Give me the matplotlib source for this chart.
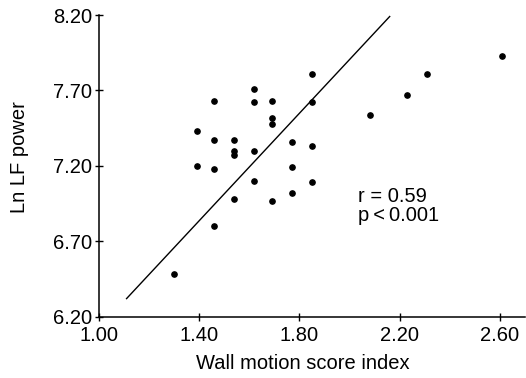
import numpy as np
import matplotlib
matplotlib.use("Agg")
import matplotlib.pyplot as plt

plt.rcParams['font.family'] = ['Liberation Sans', 'DejaVu Sans']

# wall motion score index vs ln LF power
wmsi = [1.30, 1.39, 1.39, 1.46, 1.46, 1.46, 1.46, 1.54, 1.54, 1.54,
        1.54, 1.62, 1.62, 1.62, 1.62, 1.69, 1.69, 1.69, 1.69, 1.77,
        1.77, 1.77, 1.85, 1.85, 1.85, 1.85, 2.08, 2.23, 2.31, 2.61]
ln_lf = [6.48, 7.43, 7.20, 7.63, 7.37, 7.18, 6.80, 7.37, 7.30, 7.27,
         6.98, 7.71, 7.62, 7.30, 7.10, 7.63, 7.52, 7.48, 6.97, 7.36,
         7.19, 7.02, 7.81, 7.62, 7.33, 7.09, 7.54, 7.67, 7.81, 7.93]

# regression line end points
line_x = [1.11, 2.16]
line_y = [6.32, 8.19]

xticks = [1.00, 1.40, 1.80, 2.20, 2.60]
yticks = [6.20, 6.70, 7.20, 7.70, 8.20]

fs = 14.5

fig = plt.figure(figsize=(5.26, 3.78), dpi=100)
ax = fig.add_axes([99/526, 61.3/378, 426/526, 301.7/378])

ax.plot(wmsi, ln_lf, 'o', color='black', markersize=3.8, linestyle='none')
ax.plot(line_x, line_y, color='black', linewidth=1.0)

ax.set_xlim(1.00, 2.70)
ax.set_ylim(6.20, 8.20)
ax.set_xticks(xticks)
ax.set_yticks(yticks)
ax.set_xticklabels(["%.2f" % t for t in xticks])
ax.set_yticklabels(["%.2f" % t for t in yticks])

ax.spines['top'].set_visible(False)
ax.spines['right'].set_visible(False)
ax.spines['left'].set_linewidth(1.1)
ax.spines['bottom'].set_linewidth(1.1)
ax.tick_params(axis='both', direction='inout', length=6, width=1.0,
               labelsize=fs, colors='black')
ax.tick_params(axis='y', pad=2)
ax.tick_params(axis='x', pad=4)

ax.set_xlabel("Wall motion score index", fontsize=fs)
ax.xaxis.set_label_coords(0.478, -0.125)
ax.set_ylabel("Ln LF power", fontsize=fs)
ax.yaxis.set_label_coords(-0.165, 0.53)

ax.text(0.607, 0.43, "r = 0.59\np\u2009<\u20090.001", transform=ax.transAxes,
        fontsize=fs, va='top', ha='left', linespacing=1.0)

fig.savefig("out.png", dpi=100)
